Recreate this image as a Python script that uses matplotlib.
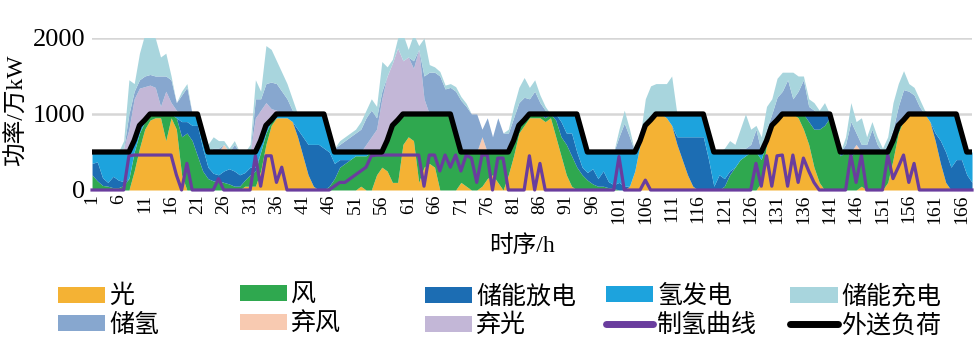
import matplotlib
matplotlib.use("Agg")
import matplotlib.pyplot as plt
import numpy as np
from matplotlib.patches import Patch
from matplotlib.lines import Line2D

# 數字用 Times 類字型，中文退回 Noto Sans CJK
plt.rcParams["font.family"] = ["Liberation Serif", "Noto Sans CJK SC"]
plt.rcParams["axes.unicode_minus"] = False

# ============================================================
# 資料（每行一天，24 小時）
# ============================================================
hours = list(range(1, 169))

load = [
    500, 500, 500, 500, 500, 500, 500, 500, 650, 850, 920, 1000, 1000, 1000, 1000, 1000, 1000, 1000, 1000, 1000, 1000, 750, 500, 500,
    500, 500, 500, 500, 500, 500, 500, 500, 650, 850, 920, 1000, 1000, 1000, 1000, 1000, 1000, 1000, 1000, 1000, 1000, 750, 500, 500,
    500, 500, 500, 500, 500, 500, 500, 500, 650, 850, 920, 1000, 1000, 1000, 1000, 1000, 1000, 1000, 1000, 1000, 1000, 750, 500, 500,
    500, 500, 500, 500, 500, 500, 500, 500, 650, 850, 920, 1000, 1000, 1000, 1000, 1000, 1000, 1000, 1000, 1000, 1000, 750, 500, 500,
    500, 500, 500, 500, 500, 500, 500, 500, 650, 850, 920, 1000, 1000, 1000, 1000, 1000, 1000, 1000, 1000, 1000, 1000, 750, 500, 500,
    500, 500, 500, 500, 500, 500, 500, 500, 650, 850, 920, 1000, 1000, 1000, 1000, 1000, 1000, 1000, 1000, 1000, 1000, 750, 500, 500,
    500, 500, 500, 500, 500, 500, 500, 500, 650, 850, 920, 1000, 1000, 1000, 1000, 1000, 1000, 1000, 1000, 1000, 1000, 750, 500, 500,
]

solar = [
    0, 0, 0, 0, 0, 0, 0, 0, 250, 550, 800, 920, 950, 950, 650, 950, 800, 200, 0, 0, 0, 0, 0, 0,
    0, 0, 0, 0, 0, 50, 50, 50, 250, 600, 850, 950, 950, 950, 900, 700, 450, 200, 50, 0, 0, 0, 0, 0,
    0, 0, 0, 50, 0, 0, 200, 300, 250, 100, 100, 600, 700, 650, 100, 300, 350, 300, 0, 0, 0, 0, 100, 50,
    0, 0, 50, 150, 200, 100, 0, 200, 450, 750, 850, 950, 950, 950, 900, 950, 700, 450, 200, 50, 0, 0, 0, 0,
    0, 0, 0, 0, 0, 0, 50, 250, 600, 830, 920, 1000, 1000, 950, 850, 600, 400, 200, 50, 0, 0, 0, 0, 0,
    0, 0, 0, 0, 0, 0, 0, 100, 600, 850, 920, 1000, 1000, 1000, 950, 800, 600, 300, 100, 0, 0, 0, 0, 0,
    0, 0, 50, 0, 0, 0, 0, 100, 400, 750, 920, 1000, 1000, 1000, 1000, 900, 650, 350, 100, 0, 0, 0, 0, 0,
]

wind = [
    200, 120, 60, 50, 30, 30, 60, 150, 250, 200, 100, 80, 50, 50, 350, 50, 150, 500, 750, 650, 450, 250, 150, 120,
    120, 100, 80, 50, 50, 80, 150, 200, 250, 150, 50, 0, 0, 0, 0, 0, 0, 0, 0, 0, 0, 50, 150, 300,
    350, 400, 450, 400, 450, 500, 300, 200, 400, 750, 820, 400, 300, 350, 900, 700, 650, 700, 1000, 1000, 1000, 750, 400, 450,
    500, 500, 450, 350, 300, 400, 500, 300, 200, 100, 70, 50, 50, 50, 50, 50, 220, 250, 400, 400, 300, 200, 130, 80,
    50, 50, 30, 20, 0, 0, 0, 0, 0, 0, 0, 0, 0, 0, 0, 0, 0, 0, 0, 0, 0, 0, 0, 0,
    50, 200, 300, 400, 450, 500, 500, 300, 50, 0, 0, 0, 0, 0, 50, 200, 300, 500, 700, 850, 950, 750, 450, 500,
    450, 500, 450, 500, 500, 500, 500, 400, 250, 100, 0, 0, 0, 0, 0, 0, 0, 0, 0, 0, 0, 0, 0, 0,
]

ess_dis = [
    150, 250, 100, 50, 150, 100, 50, 0, 0, 0, 0, 0, 0, 0, 0, 0, 0, 200, 150, 200, 400, 300, 150, 100,
    80, 150, 200, 200, 150, 100, 100, 50, 0, 0, 0, 0, 0, 0, 0, 100, 250, 400, 550, 600, 550, 450, 200, 100,
    50, 0, 0, 0, 0, 0, 0, 0, 0, 0, 0, 0, 0, 0, 0, 0, 0, 0, 0, 0, 0, 0, 0, 0,
    0, 0, 0, 0, 0, 0, 0, 0, 0, 0, 0, 0, 0, 0, 50, 0, 80, 200, 150, 300, 200, 100, 100, 200,
    100, 200, 80, 50, 100, 50, 0, 0, 0, 0, 0, 0, 0, 0, 0, 100, 300, 500, 650, 700, 700, 400, 50, 200,
    100, 50, 0, 0, 0, 0, 0, 0, 0, 0, 0, 0, 0, 0, 0, 0, 100, 200, 200, 150, 50, 0, 50, 0,
    50, 0, 0, 0, 0, 0, 0, 0, 0, 0, 0, 0, 0, 0, 0, 0, 100, 300, 400, 300, 400, 400, 200, 100,
]

h2_gen = [
    150, 130, 340, 400, 320, 370, 390, 350, 150, 100, 20, 0, 0, 0, 0, 0, 50, 100, 100, 150, 150, 200, 200, 280,
    300, 250, 220, 250, 300, 270, 200, 200, 150, 100, 20, 50, 50, 50, 100, 200, 300, 400, 400, 400, 450, 250, 150, 100,
    100, 100, 50, 50, 50, 0, 0, 0, 0, 0, 0, 0, 0, 0, 0, 0, 0, 0, 0, 0, 0, 0, 0, 0,
    0, 0, 0, 0, 0, 0, 0, 0, 0, 0, 0, 0, 0, 0, 0, 0, 0, 100, 250, 250, 500, 450, 270, 220,
    350, 250, 390, 430, 400, 450, 450, 250, 50, 20, 0, 0, 0, 50, 150, 300, 300, 300, 300, 300, 300, 350, 450, 300,
    350, 250, 200, 100, 50, 0, 0, 100, 0, 0, 0, 0, 0, 0, 0, 0, 0, 0, 0, 0, 0, 0, 0, 0,
    0, 0, 0, 0, 0, 0, 0, 0, 0, 0, 0, 0, 0, 0, 0, 100, 250, 350, 500, 700, 600, 350, 300, 400,
]

curt_pv = [
    0, 0, 0, 0, 0, 0, 50, 300, 550, 490, 440, 380, 350, 100, 300, 150, 50, 0, 0, 0, 0, 0, 0, 0,
    0, 0, 0, 0, 0, 0, 0, 450, 400, 300, 150, 50, 0, 0, 0, 0, 0, 0, 0, 0, 0, 0, 0, 0,
    0, 0, 0, 0, 100, 200, 300, 700, 850, 820, 950, 700, 750, 600, 850, 200, 0, 0, 0, 0, 0, 0, 0, 0,
    0, 0, 0, 0, 0, 0, 0, 0, 0, 0, 0, 0, 0, 0, 0, 0, 0, 0, 0, 0, 0, 0, 0, 0,
    0, 0, 0, 0, 0, 0, 0, 0, 0, 0, 0, 0, 0, 0, 0, 0, 0, 0, 0, 0, 0, 0, 0, 0,
    0, 0, 0, 0, 0, 0, 0, 0, 0, 0, 0, 0, 0, 0, 0, 0, 0, 0, 0, 0, 0, 0, 0, 0,
    0, 0, 0, 0, 0, 0, 0, 0, 0, 0, 0, 0, 0, 0, 0, 0, 0, 0, 0, 0, 0, 0, 0, 0,
]

curt_wind = [
    0, 0, 0, 0, 0, 0, 0, 0, 0, 0, 0, 0, 0, 0, 0, 0, 0, 0, 0, 0, 0, 0, 0, 0,
    0, 100, 0, 0, 0, 0, 0, 0, 0, 0, 0, 0, 0, 0, 0, 0, 0, 0, 0, 0, 0, 0, 0, 0,
    0, 0, 0, 0, 0, 0, 0, 0, 0, 0, 0, 0, 0, 0, 0, 0, 0, 0, 0, 0, 0, 0, 0, 0,
    0, 0, 200, 0, 0, 0, 0, 0, 0, 0, 0, 0, 0, 0, 0, 0, 0, 0, 0, 0, 0, 0, 0, 0,
    0, 0, 0, 0, 0, 0, 0, 0, 0, 0, 0, 0, 0, 0, 0, 0, 0, 0, 0, 0, 0, 0, 0, 0,
    0, 0, 0, 0, 0, 0, 0, 0, 0, 0, 0, 0, 0, 0, 0, 0, 0, 0, 0, 0, 0, 0, 0, 0,
    0, 100, 0, 0, 0, 0, 0, 0, 0, 0, 0, 0, 0, 0, 0, 0, 0, 0, 0, 0, 0, 0, 0, 0,
]

h2_store = [
    0, 0, 0, 0, 0, 0, 0, 200, 100, 110, 140, 140, 150, 400, 200, 300, 100, 250, 350, 0, 0, 0, 0, 50,
    50, 0, 0, 100, 0, 0, 0, 250, 150, 250, 350, 350, 300, 200, 50, 0, 0, 0, 0, 0, 0, 0, 50, 100,
    150, 200, 250, 300, 350, 350, 150, 100, 0, 0, 0, 0, 0, 100, 0, 300, 550, 550, 500, 330, 350, 550, 680, 600,
    500, 500, 100, 450, 200, 450, 250, 250, 300, 300, 300, 200, 300, 150, 50, 0, 0, 0, 0, 0, 0, 0, 0, 0,
    0, 0, 0, 0, 200, 380, 200, 0, 0, 0, 0, 0, 0, 0, 0, 0, 0, 0, 0, 0, 0, 0, 0, 0,
    0, 0, 0, 50, 50, 100, 300, 0, 150, 150, 300, 300, 450, 200, 300, 450, 100, 50, 0, 0, 0, 0, 0, 100,
    400, 150, 100, 100, 300, 100, 0, 100, 150, 250, 400, 300, 250, 100, 0, 0, 0, 0, 0, 0, 0, 0, 0, 0,
]

ess_chg = [
    0, 0, 0, 0, 0, 0, 100, 450, 100, 350, 550, 530, 500, 250, 300, 50, 0, 50, 50, 0, 0, 0, 100, 150,
    100, 50, 50, 50, 0, 0, 100, 250, 100, 500, 430, 300, 250, 200, 150, 0, 0, 0, 0, 0, 0, 0, 0, 50,
    50, 50, 50, 100, 100, 150, 150, 390, 120, 50, 130, 350, 100, 350, 50, 500, 100, 70, 60, 50, 50, 60, 50, 40,
    0, 0, 0, 0, 0, 0, 0, 50, 150, 200, 260, 150, 150, 100, 50, 0, 0, 0, 0, 0, 0, 0, 0, 0,
    0, 0, 0, 0, 100, 170, 100, 0, 50, 350, 450, 400, 400, 400, 500, 0, 0, 0, 0, 0, 0, 0, 0, 0,
    50, 150, 100, 250, 450, 200, 50, 200, 300, 200, 250, 250, 100, 350, 200, 50, 100, 100, 50, 150, 0, 0, 0, 100,
    250, 150, 350, 100, 100, 100, 50, 100, 350, 300, 250, 100, 100, 100, 50, 0, 0, 0, 0, 0, 0, 0, 0, 0,
]

h2_make = [
    0, 0, 0, 0, 0, 0, 0, 450, 460, 460, 460, 460, 460, 460, 460, 460, 200, 0, 350, 0, 0, 0, 0, 0,
    150, 0, 0, 0, 0, 0, 0, 450, 50, 450, 450, 100, 300, 0, 0, 0, 0, 0, 0, 0, 0, 0, 50, 100,
    100, 150, 200, 250, 300, 450, 460, 460, 460, 460, 460, 460, 460, 460, 460, 50, 460, 460, 250, 460, 300, 460, 250, 460,
    420, 100, 460, 460, 0, 420, 420, 0, 0, 0, 0, 450, 0, 350, 0, 0, 0, 0, 0, 0, 0, 0, 0, 0,
    0, 0, 0, 0, 440, 0, 0, 0, 0, 130, 0, 0, 0, 0, 0, 0, 0, 0, 0, 0, 0, 0, 0, 0,
    0, 0, 0, 0, 0, 0, 350, 50, 450, 50, 450, 460, 50, 460, 100, 420, 250, 100, 0, 0, 0, 0, 0, 0,
    460, 100, 460, 0, 0, 0, 0, 460, 150, 300, 460, 100, 350, 0, 0, 0, 0, 0, 0, 0, 0, 0, 0, 0,
]

# 堆疊順序（由下而上）
layer_names = ["光", "风", "储能放电", "氢发电", "弃光", "弃风", "储氢", "储能充电"]
layer_vals = [solar, wind, ess_dis, h2_gen, curt_pv, curt_wind, h2_store, ess_chg]
layer_colors = ["#F4B234", "#2FA84F", "#1C6DB3", "#1DA3DD", "#C3B7D7", "#F8CAB1", "#87A7CF", "#A8D5DD"]

# ============================================================
# 繪圖
# ============================================================
fig = plt.figure(figsize=(9.78, 3.57), dpi=100)
ax = fig.add_axes([0.0941, 0.4678, 0.8998, 0.4258])

base = np.zeros(len(hours))
for vals, c in zip(layer_vals, layer_colors):
    top = base + np.array(vals, dtype=float)
    ax.fill_between(hours, base, top, color=c, linewidth=0)
    base = top

ax.plot(hours, h2_make, color="#6A3D9E", linewidth=2.3, zorder=4, clip_on=False)
ax.plot(hours, load, color="black", linewidth=3.8, zorder=5, solid_joinstyle="round")

ax.set_xlim(1, 168)
ax.set_ylim(0, 2000)
ax.set_xticks(list(range(1, 169, 5)))
ax.set_xticklabels([str(h) for h in range(1, 169, 5)], rotation=90)
ax.set_yticks([0, 1000, 2000])
ax.tick_params(axis="x", length=0, pad=3, labelsize=14)
ax.tick_params(axis="y", length=0, pad=5, labelsize=19)
for s in ax.spines.values():
    s.set_visible(False)
ax.grid(axis="y", color="#D6D6D6", linewidth=1.8)
ax.set_axisbelow(True)

fig.text(17 / 978, 1 - 110 / 357, "功率/万kW", rotation=90, ha="center", va="center", fontsize=17)
fig.text(522 / 978, 1 - 246 / 357, "时序/h", ha="center", va="center", fontsize=17)

# 圖例：五欄各兩列
def _patch(i):
    return Patch(facecolor=layer_colors[i], edgecolor="none", label=layer_names[i])

line_h2 = Line2D([], [], color="#6A3D9E", linewidth=5, solid_capstyle="round", label="制氢曲线")
line_load = Line2D([], [], color="black", linewidth=5, solid_capstyle="round", label="外送负荷")

legend_cols = [
    (58, [_patch(0), _patch(6)]),
    (240, [_patch(1), _patch(5)]),
    (425, [_patch(2), _patch(4)]),
    (606, [_patch(3), line_h2]),
    (790, [_patch(7), line_load]),
]
for x_px, hs in legend_cols:
    fig.legend(handles=hs, loc="upper left", bbox_to_anchor=(x_px / 978, 1 - 285 / 357),
               frameon=False, fontsize=18, handlelength=1.9, handleheight=0.6,
               handletextpad=0.15, labelspacing=0.22, borderpad=0, borderaxespad=0)

fig.savefig("out.png", dpi=100)
